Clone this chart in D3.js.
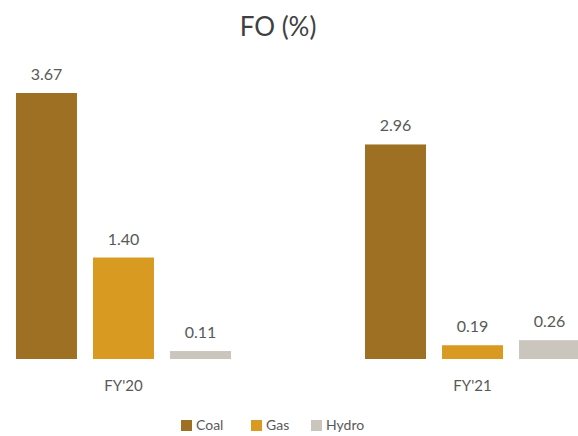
<!DOCTYPE html>
<html>
<head>
<meta charset="utf-8">
<script src="https://cdn.jsdelivr.net/npm/d3@7"></script>
<style>
  body { margin: 0; background: #fff; }
  svg { display: block; font-family: Lato, "Open Sans", sans-serif; }
</style>
</head>
<body>
<script>
const width = 578,
    height = 436;

// data
const years = ["FY'20", "FY'21"];
const series = ['Coal', 'Gas', 'Hydro'];
const coal = [3.67, 2.96];
const gas = [1.40, 0.19];
const hydro = [0.11, 0.26];
const colors = ['#9d7023', '#d99a22', '#cbc6bd'];

const rows = years.map((y, i) => ({year: y, values: [coal[i], gas[i], hydro[i]]}));

let svg = d3.select('body').append('svg')
    .attr('width', width)
    .attr('height', height);

// group scale, the right group runs past the edge like the original crop
let x0 = d3.scaleBand()
    .domain(years)
    .range([0, 596])
    .paddingInner(0.384)
    .paddingOuter(0.0458);

let x1 = d3.scaleBand()
    .domain(series)
    .range([0, x0.bandwidth()])
    .paddingInner(0.208);

let y = d3.scaleLinear()
    .domain([0, 3.67])
    .range([359, 93]);

let color = d3.scaleOrdinal().domain(series).range(colors);

svg.append('text')
    .attr('x', 278)
    .attr('y', 36)
    .attr('text-anchor', 'middle')
    .attr('fill', '#404040')
    .attr('font-size', 26)
    .text('FO (%)');

let group = svg.selectAll('g.year')
    .data(rows)
    .join('g')
    .attr('class', 'year')
    .attr('transform', d => `translate(${x0(d.year)},0)`);

let bars = group.selectAll('g.bar')
    .data(d => d.values.map((v, i) => ({key: series[i], value: v})))
    .join('g')
    .attr('class', 'bar');

bars.append('rect')
    .attr('x', d => x1(d.key))
    .attr('y', d => y(d.value))
    .attr('width', x1.bandwidth())
    .attr('height', d => y(0) - y(d.value))
    .attr('fill', d => color(d.key));

bars.append('text')
    .attr('x', d => x1(d.key) + x1.bandwidth() / 2)
    .attr('y', d => y(d.value) - 13)
    .attr('text-anchor', 'middle')
    .attr('fill', '#595959')
    .attr('font-size', 16)
    .text(d => d.value.toFixed(2));

// category labels under the middle bar
let xAxis = d3.axisBottom(x0).tickSize(0).tickPadding(0);
let axis = svg.append('g')
    .attr('transform', `translate(0,${y(0)})`)
    .call(xAxis);
axis.select('.domain').remove();
axis.selectAll('text')
    .attr('y', 32)
    .attr('dy', 0)
    .attr('fill', '#595959')
    .attr('font-size', 15)
    .attr('font-family', 'Lato, "Open Sans", sans-serif');

// legend
const legendX = [181, 251, 311];
let legend = svg.append('g')
    .selectAll('g')
    .data(series)
    .join('g')
    .attr('transform', (d, i) => `translate(${legendX[i]},419)`);

legend.append('rect')
    .attr('y', 1)
    .attr('width', 11)
    .attr('height', 11)
    .attr('fill', d => color(d));

legend.append('text')
    .attr('x', 15)
    .attr('y', 11)
    .attr('fill', '#595959')
    .attr('font-size', 14)
    .text(d => d);
</script>
</body>
</html>
